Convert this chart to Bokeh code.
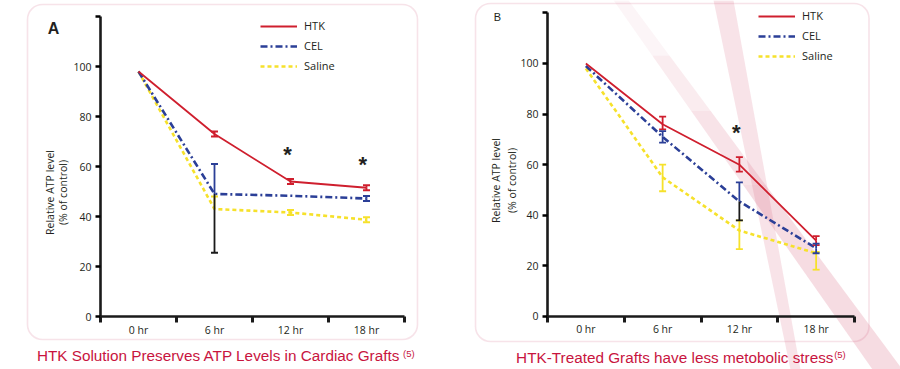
from bokeh.plotting import figure
from bokeh.models import (ColumnDataSource, LinearAxis, FixedTicker, Whisker, TeeHead,
                          Legend, LegendItem, BoxAnnotation, Range1d)
from bokeh.layouts import row
from bokeh.core.properties import value
from bokeh.embed import file_html
from bokeh.resources import INLINE

# ---------------- data ----------------
hours = ["0 hr", "6 hr", "12 hr", "18 hr"]
x_pos = [0.5, 1.5, 2.5, 3.5]
bounds_x = [0, 1, 2, 3, 4]
y_ticks = [0, 20, 40, 60, 80, 100]

# Panel A
a_htk = [98, 73, 54, 51.5]
a_htk_up = [0, 1, 1, 1]
a_htk_lo = [0, 1, 1, 1]
a_cel = [98, 49, 48.3, 47.2]
a_cel_up = [0, 12, 0, 1]
a_cel_lo = [0, 23.5, 0, 1]
a_sal = [98, 43, 41.6, 38.7]
a_sal_up = [0, 5, 1, 1]
a_sal_lo = [0, 0, 1, 1]
a_star_x = [2.46, 3.45]
a_star_y = [67, 63]

# Panel B
b_htk = [100, 76, 60, 30]
b_htk_up = [0, 3, 3, 1.8]
b_htk_lo = [0, 2, 2.7, 1.8]
b_cel = [99, 71, 45.5, 27]
b_cel_up = [0, 2.3, 7.5, 1.8]
b_cel_lo = [0, 2.3, 7.5, 2]
b_sal = [98, 55, 34, 25]
b_sal_up = [0, 5, 4, 0.5]
b_sal_lo = [0, 5.5, 7.4, 6.5]
b_star_x = [2.46]
b_star_y = [75]

# ---------------- styles ----------------
RED = "#cf1f2e"
BLUE = "#2b3f97"
YELLOW = "#f6e12b"
BLACK = "#1a1a1a"
TEXT = "#231f20"
CRIMSON = "#c8143e"
PINK = "#e3a2b5"
BAND = "#d4506f"
FONT = "Open Sans"
TFONT = "Liberation Sans"
STAR_DROP = 2.2   # asterisk glyph sits high in its em box


def add_errors(p, vals, ups, los, color, lo_colors):
    xs, bs, ts = [], [], []
    for x, v, u in zip(x_pos, vals, ups):
        if u > 0:
            xs.append(x); bs.append(v); ts.append(v + u)
    if xs:
        src = ColumnDataSource(dict(x=xs, lower=bs, upper=ts))
        p.add_layout(Whisker(source=src, base="x", lower="lower", upper="upper",
                             line_color=color, line_width=1.8,
                             upper_head=TeeHead(size=7, line_color=color, line_width=1.8),
                             lower_head=None, level="glyph"))
    groups = {}
    for x, v, l, c in zip(x_pos, vals, los, lo_colors):
        if l > 0:
            groups.setdefault(c, ([], [], []))
            groups[c][0].append(x); groups[c][1].append(v - l); groups[c][2].append(v)
    for c, (xs, bs, ts) in groups.items():
        src = ColumnDataSource(dict(x=xs, lower=bs, upper=ts))
        p.add_layout(Whisker(source=src, base="x", lower="lower", upper="upper",
                             line_color=c, line_width=1.8,
                             lower_head=TeeHead(size=7, line_color=c, line_width=1.8),
                             upper_head=None, level="glyph"))


def draw_band(p, band):
    (tl, tr, yt), (bl, br, yb), stops = band
    def at(f):
        return (tl + (bl - tl) * f, tr + (br - tr) * f, yt + (yb - yt) * f)
    for f0, f1, alpha in stops:
        l0, r0, y0 = at(f0)
        l1, r1, y1 = at(f1)
        p.patch([l0, r0, r1, l1], [y0, y0, y1, y1], fill_color=BAND,
                fill_alpha=alpha, line_color=None)


def make_panel(xr, yr, series, stars, deco):
    p = figure(width=450, height=369, x_range=Range1d(*xr), y_range=Range1d(*yr),
               x_axis_type=None, y_axis_type=None, toolbar_location=None,
               output_backend="svg", min_border=0, outline_line_color=None)
    p.background_fill_color = "white"
    p.border_fill_color = "white"

    bl, br, bt, bb = deco["box"]
    p.add_layout(BoxAnnotation(left=bl, right=br, top=bt, bottom=bb, border_radius=15,
                               fill_color=None, line_color=PINK, line_width=1.6,
                               level="underlay"))
    for band in deco.get("bands", []):
        draw_band(p, band)

    xaxis = LinearAxis(fixed_location=0, bounds=(0, 4),
                       ticker=FixedTicker(ticks=x_pos, minor_ticks=bounds_x))
    xaxis.major_label_overrides = {x: h for x, h in zip(x_pos, hours)}
    xaxis.axis_line_width = 2.6
    xaxis.axis_line_color = BLACK
    xaxis.major_tick_out = 0
    xaxis.major_tick_in = 0
    xaxis.minor_tick_out = 6
    xaxis.minor_tick_in = 0
    xaxis.minor_tick_line_width = 3
    xaxis.minor_tick_line_color = BLACK
    xaxis.major_label_standoff = 0
    xaxis.major_label_text_font = FONT
    xaxis.major_label_text_font_size = "10.5px"
    xaxis.major_label_text_color = TEXT
    p.add_layout(xaxis, "below")

    yaxis = LinearAxis(fixed_location=0, bounds=(0, 120),
                       ticker=FixedTicker(ticks=y_ticks, minor_ticks=[120]))
    yaxis.axis_line_width = 2.6
    yaxis.axis_line_color = BLACK
    yaxis.major_tick_out = 5
    yaxis.major_tick_in = 0
    yaxis.major_tick_line_width = 2.5
    yaxis.minor_tick_out = 5
    yaxis.minor_tick_in = 0
    yaxis.minor_tick_line_width = 2.5
    yaxis.major_label_standoff = 4
    yaxis.major_label_text_font = FONT
    yaxis.major_label_text_font_size = "10.5px"
    yaxis.major_label_text_color = TEXT
    p.add_layout(yaxis, "left")

    (htk, htk_up, htk_lo), (cel, cel_up, cel_lo, cel_lo_col), (sal, sal_up, sal_lo) = series

    r_sal = p.line(x_pos, sal, line_color=YELLOW, line_width=2.6, line_dash="4 3")
    r_cel = p.line(x_pos, cel, line_color=BLUE, line_width=2.6, line_dash="7 3 2 3")
    r_htk = p.line(x_pos, htk, line_color=RED, line_width=1.8)

    add_errors(p, sal, sal_up, sal_lo, YELLOW, [YELLOW] * 4)
    add_errors(p, htk, htk_up, htk_lo, RED, [RED] * 4)
    add_errors(p, cel, cel_up, cel_lo, BLUE, cel_lo_col)

    sx, sy = stars
    p.text(sx, [v - STAR_DROP for v in sy], text=["*"] * len(sx), text_font=value(TFONT),
           text_font_size="22px", text_font_style="bold", text_align="center",
           text_baseline="middle", text_color=TEXT)

    lx, ly, ltxt, lsize, lstyle = deco["letter"]
    p.text([lx], [ly], text=[ltxt], text_font=value(TFONT), text_font_size=lsize,
           text_font_style=lstyle, text_align="center", text_baseline="middle",
           text_color=TEXT)

    (x1, x2), yc = deco["ytitle"]
    p.text([x1, x2], [yc, yc], text=["Relative ATP level", "(% of control)"],
           angle=1.5708, text_font=value(FONT), text_font_size="10.5px",
           text_align="center", text_baseline="middle", text_color=TEXT)

    tx, ty, ttxt, sx2, sy2 = deco["title"]
    p.text([tx], [ty], text=[ttxt], text_font=value(TFONT), text_font_size="15.3px",
           text_align="right", text_baseline="middle", text_color=CRIMSON)
    p.text([sx2], [sy2], text=["(5)"], text_font=value(TFONT), text_font_size="9.5px",
           text_align="left", text_baseline="middle", text_color=CRIMSON)

    legend = Legend(items=[LegendItem(label="HTK", renderers=[r_htk]),
                           LegendItem(label="CEL", renderers=[r_cel]),
                           LegendItem(label="Saline", renderers=[r_sal])],
                    location=deco["legend"], glyph_width=37, glyph_height=14,
                    label_height=14, spacing=5, padding=0, margin=0,
                    label_standoff=7, border_line_color=None,
                    background_fill_alpha=0, label_text_font=FONT,
                    label_text_font_size="11px", label_text_color=TEXT)
    p.add_layout(legend, "center")
    return p


pa = make_panel(
    (-1.3158, 4.6053), (-21.2, 126.4),
    ((a_htk, a_htk_up, a_htk_lo),
     (a_cel, a_cel_up, a_cel_lo, [BLUE, BLACK, BLUE, BLUE]),
     (a_sal, a_sal_up, a_sal_lo)),
    (a_star_x, a_star_y),
    dict(box=(-0.9605, 4.171, 124.8, -9.2),
         letter=(-0.618, 115.2, "A", "16px", "bold"),
         ytitle=((-0.671, -0.50), 49.6),
         title=(3.947, -15.6, "HTK Solution Preserves ATP Levels in Cardiac Grafts", 3.98, -14.6),
         legend=(260, 296)))

pb = make_panel(
    (-1.2638, 4.5993), (-20.95, 124.9),
    ((b_htk, b_htk_up, b_htk_lo),
     (b_cel, b_cel_up, b_cel_lo, [BLUE, BLUE, BLACK, BLUE]),
     (b_sal, b_sal_up, b_sal_lo)),
    (b_star_x, b_star_y),
    dict(box=(-0.938, 4.189, 123.7, -9.9),
         letter=(-0.651, 118.2, "B", "11px", "normal"),
         ytitle=((-0.677, -0.456), 53.75),
         title=(3.726, -16.2, "HTK-Treated Grafts have less metobolic stress", 3.735, -15.0),
         legend=(308, 306),
         bands=[((0.86, 1.055, 125), (4.235, 4.625, -20.95),
                 [(0.0, 0.15, 0.06), (0.15, 0.3, 0.11), (0.3, 0.5, 0.16), (0.5, 1.0, 0.2)]),
                ((2.163, 2.423, 125), (3.166, 3.296, -20.95),
                 [(0.0, 1.0, 0.16)])]))

layout = row(pa, pb)
open("out.html", "w").write(file_html(layout, INLINE))
